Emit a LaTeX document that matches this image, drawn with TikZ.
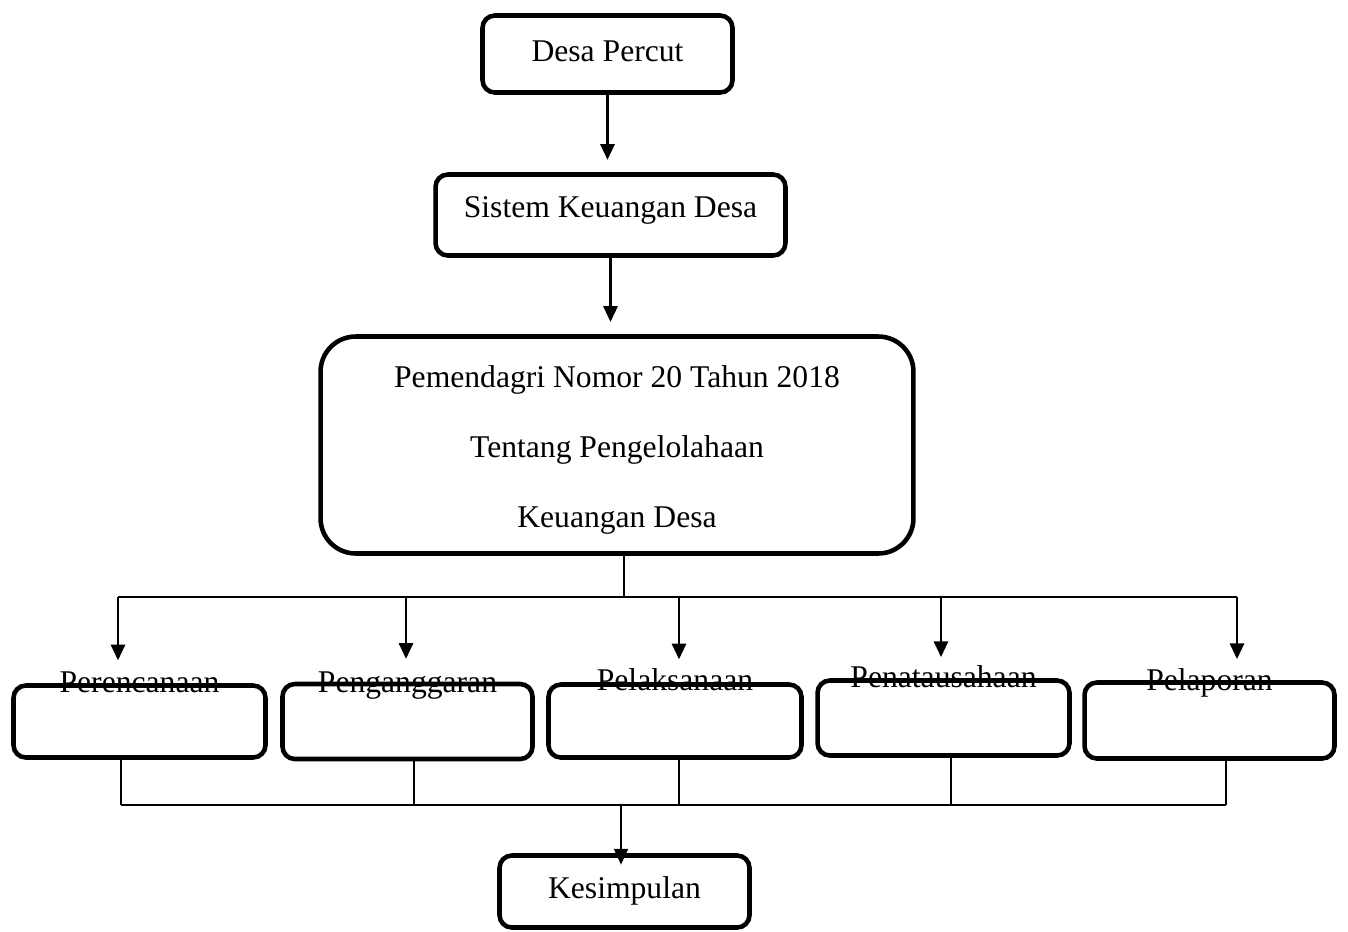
\documentclass[tikz,border=0pt]{standalone}
\usepackage{fontspec}
\setmainfont{Liberation Serif}
\usetikzlibrary{arrows.meta}
\tikzset{box/.style = {draw, rounded corners = 7pt, line width = 2.6pt, inner sep = 0,
                       text height = 12.3pt, text depth = 3.9pt,
                       font = \fontsize{18}{22}\selectfont}}
\tikzset{lbl/.style = {anchor = base, inner sep = 0, font = \fontsize{18}{22}\selectfont}}
\tikzset{arr/.style = {-{Triangle[length = 9pt, width = 8pt]}, line width = 1.6pt}}
\tikzset{bus/.style = {line width = 1pt}}

\begin{document}
\begin{tikzpicture}[x = 0.02cm, y = -0.02cm]
    \useasboundingbox (0, 0) rectangle (1348, 931);
    % top chain
    \node [box, minimum width = 5cm, minimum height = 1.54cm] (desa) at (607.5, 54) {Desa Percut};
    \node [box, text depth = 8.9pt, minimum width = 7cm, minimum height = 1.62cm] (sistem)
          at (610.5, 215) {Sistem Keuangan Desa};
    \node [box, rounded corners = 20pt, minimum width = 11.86cm, minimum height = 4.34cm,
           text height = , text depth = , align = center,
           font = \fontsize{18}{39.7}\selectfont] (perm) at (617, 445)
          {\rule{0pt}{18pt}Pemendagri Nomor 20 Tahun 2018\\Tentang Pengelolahaan\\Keuangan Desa};
    \draw [arr, shorten >= 7pt] (desa.south) -- (desa.south |- sistem.north);
    \draw [arr, shorten >= 7pt] (sistem.south) -- (sistem.south |- perm.north);
    % the five stages
    \node [box, minimum width = 5.04cm, minimum height = 1.44cm] (plan) at (139.5, 721.5) {};
    \node [box, minimum width = 5cm, minimum height = 1.5cm] (budget) at (407.5, 721.5) {};
    \node [box, minimum width = 5.06cm, minimum height = 1.46cm] (exec) at (675, 721) {};
    \node [box, minimum width = 5.04cm, minimum height = 1.5cm] (admin) at (943.5, 718) {};
    \node [box, minimum width = 5cm, minimum height = 1.52cm] (report) at (1209.5, 720.5) {};
    \node [lbl] (plan-l) at (139.5, 692) {Perencanaan};
    \node [lbl] (budget-l) at (407.5, 692) {Penganggaran};
    \node [lbl] (exec-l) at (675, 690) {Pelaksanaan};
    \node [lbl] (admin-l) at (943.5, 687) {Penatausahaan};
    \node [lbl] (report-l) at (1209.5, 690) {Pelaporan};
    % branching
    \coordinate (hub) at (624, 597);
    \coordinate (a1) at (118, 597);
    \coordinate (a2) at (406, 597);
    \coordinate (a3) at (679, 597);
    \coordinate (a4) at (941, 597);
    \coordinate (a5) at (1237, 597);
    \draw [bus] (perm.south -| hub) -- (hub);
    \draw [bus] (a1) -- (a5);
    \draw [arr, shorten >= 13pt] (a1) -- (a1 |- plan.north);
    \draw [arr, shorten >= 13pt] (a2) -- (a2 |- budget.north);
    \draw [arr, shorten >= 13pt] (a3) -- (a3 |- exec.north);
    \draw [arr, shorten >= 12pt] (a4) -- (a4 |- admin.north);
    \draw [arr, shorten >= 12pt] (a5) -- (a5 |- report.north);
    % joining
    \node [box, minimum width = 5cm, minimum height = 1.44cm] (kes) at (624.5, 891.5) {Kesimpulan};
    \coordinate (b1) at (121, 805);
    \coordinate (b2) at (414, 805);
    \coordinate (b3) at (679, 805);
    \coordinate (b4) at (951, 805);
    \coordinate (b5) at (1226, 805);
    \coordinate (join) at (621, 805);
    \draw [bus] (plan.south -| b1) -- (b1);
    \draw [bus] (budget.south -| b2) -- (b2);
    \draw [bus] (exec.south -| b3) -- (b3);
    \draw [bus] (admin.south -| b4) -- (b4);
    \draw [bus] (report.south -| b5) -- (b5);
    \draw [bus] (b1) -- (b5);
    \draw [arr, line width = 1pt, shorten >= -6.5pt] (join) -- (join |- kes.north);
\end{tikzpicture}
\end{document}
